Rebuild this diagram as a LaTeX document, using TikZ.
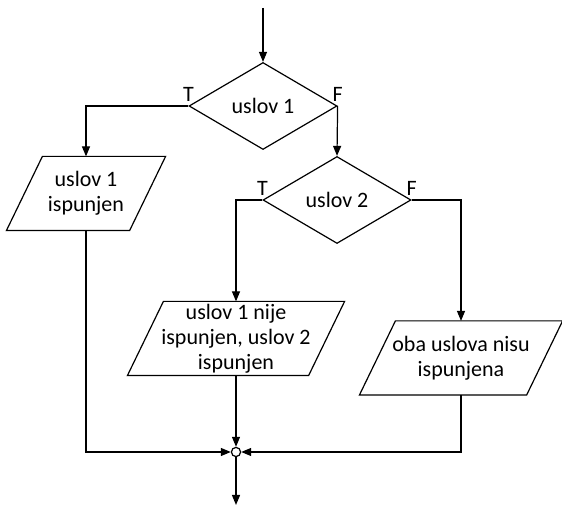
\documentclass[tikz,border=0pt]{standalone}
\usepackage{fontspec}
\setmainfont{Carlito}
\usetikzlibrary{shapes.geometric,arrows.meta}
\begin{document}
\begin{tikzpicture}[
        x=0.5pt, y=-0.5pt,
        font=\fontsize{11}{12.6}\selectfont,
        line width=0.6pt,
        >={Triangle[length=5pt,width=4pt]},
        cond/.style={diamond, draw, inner sep=0pt, minimum width=74pt, minimum height=43.5pt},
        io/.style={rectangle, align=center, inner sep=0pt, minimum height=36.5pt,
            append after command={\pgfextra{\draw
                ([xshift=9pt]\tikzlastnode.north west) -- ([xshift=9pt]\tikzlastnode.north east)
                -- ([xshift=-9pt]\tikzlastnode.south east) -- ([xshift=-9pt]\tikzlastnode.south west) -- cycle;}}},
        lbl/.style={inner sep=2pt},
        dot/.style={circle, draw, fill=white, inner sep=0pt, minimum size=4.6pt}
    ]
    \useasboundingbox (0,0) rectangle (562,506);
    \coordinate (in) at (263,8);
    \node[cond] (c1) at (263,106) {uslov 1};
    \node[cond] (c2) at (337,200) {uslov 2};
    \node[io, minimum width=61pt] (p1) at (86,193.5) {uslov 1\\ispunjen};
    \node[io, minimum width=90pt] (p2) at (236,338.5) {uslov 1 nije\\ispunjen, uslov 2\\ispunjen};
    \node[io, minimum width=83pt] (p3) at (461,358) {oba uslova nisu\\ispunjena};
    \node[dot] (j) at (236,452) {};
    \coordinate (out) at (236,505);
    % T / F labels
    \node[lbl, above] (t1) at (c1.west) {T};
    \node[lbl, above] (f1) at (c1.east) {F};
    \node[lbl, above] (t2) at (c2.west) {T};
    \node[lbl, above] (f2) at (c2.east) {F};
    % connectors
    \draw[->] (in) -- (c1.north);
    \draw[->] (c1.west) -| (p1.north);
    \draw[->] (c1.east) -- (c2.north);
    \draw[->] (c2.west) -| (p2.north);
    \draw[->] (c2.east) -| (p3.north);
    \draw[->] (p1.south) |- (j.west);
    \draw[->] (p2.south) -- (j.north);
    \draw[->] (p3.south) |- (j.east);
    \draw[->] (j.south) -- (out);
\end{tikzpicture}
\end{document}
